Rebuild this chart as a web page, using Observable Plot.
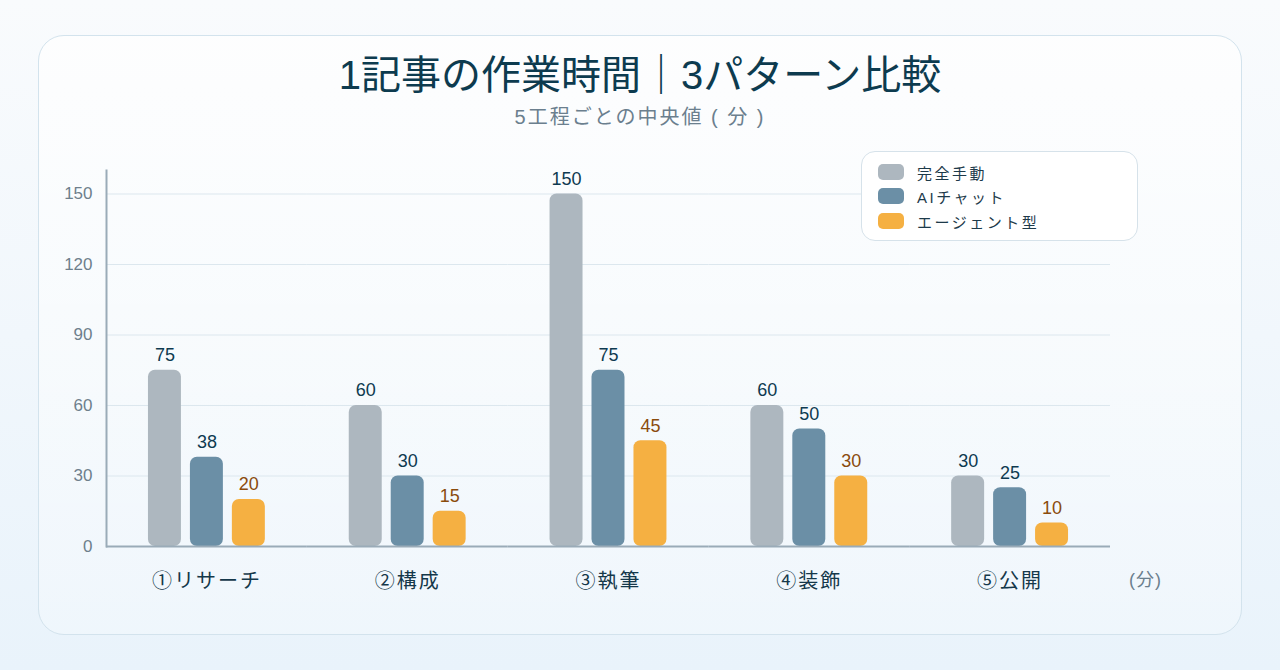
<!DOCTYPE html>
<html>
<head>
<meta charset="utf-8">
<script src="https://cdn.jsdelivr.net/npm/d3@7"></script>
<script src="https://cdn.jsdelivr.net/npm/@observablehq/plot@0.6"></script>
<style>
  html, body { margin: 0; padding: 0; }
  body {
    width: 1280px; height: 670px; overflow: hidden; position: relative;
    background: linear-gradient(180deg, #f9fbfd 0%, #e9f3fb 100%);
    font-family: "Liberation Sans", "Noto Sans CJK JP", sans-serif;
  }
  #card {
    position: absolute; left: 38px; top: 35px; width: 1202px; height: 598px;
    border: 1.5px solid #d3e3ed; border-radius: 26px;
    background: linear-gradient(180deg, rgba(255,255,255,0.7) 0%, rgba(255,255,255,0.25) 100%);
  }
  #title {
    position: absolute; left: 0; top: 52px; width: 1280px; text-align: center;
    font-size: 40px; color: #0d3b4f; line-height: 46px;
  }
  #subtitle {
    position: absolute; left: 0; top: 104px; width: 1280px; text-align: center;
    font-size: 20px; color: #6b7f8e; line-height: 26px; letter-spacing: 2px;
  }
  #chart { position: absolute; left: 0; top: 150px; }
  #chart svg [aria-label="fx-axis tick label"] text { letter-spacing: 2px; }
  #legend {
    position: absolute; left: 861px; top: 151px; width: 275px; height: 88px;
    background: #ffffff; border: 1.5px solid #d6e2ea; border-radius: 14px; z-index: 2;
  }
  .row { position: absolute; left: 16px; height: 20px; display: flex; align-items: center; }
  .sw { width: 26px; height: 16px; border-radius: 5px; margin-right: 13px; }
  .lt { font-size: 15px; color: #1d3a4a; letter-spacing: 2.5px; }
  #unit {
    position: absolute; left: 1129px; top: 565px; font-size: 18px; color: #6b7f8e; letter-spacing: 1px;
  }
</style>
</head>
<body>
<div id="card"></div>
<div id="title">1記事の作業時間｜3パターン比較</div>
<div id="subtitle">5工程ごとの中央値 ( 分 )</div>
<div id="chart"></div>
<div id="legend"></div>
<div id="unit">(分)</div>
<script>
const categories = ["①リサーチ", "②構成", "③執筆", "④装飾", "⑤公開"];
const series = ["完全手動", "AIチャット", "エージェント型"];
const manual = [75, 60, 150, 60, 30];
const aiChat = [38, 30, 75, 50, 25];
const agent = [20, 15, 45, 30, 10];
const yTicks = [0, 30, 60, 90, 120, 150];
const colors = ["#adb7bf", "#6b8fa6", "#f5b042"];
const labelColors = ["#0e3a50", "#0e3a50", "#8a4b0c"];

const values = [manual, aiChat, agent];
const data = [];
categories.forEach((c, i) => {
  series.forEach((s, j) => data.push({cat: c, series: s, value: values[j][i], idx: j}));
});

// legend
const legend = document.getElementById("legend");
const rowTops = [10, 34, 59];
series.forEach((s, j) => {
  const r = document.createElement("div");
  r.className = "row";
  r.style.top = rowTops[j] + "px";
  r.innerHTML = `<div class="sw" style="background:${colors[j]}"></div><span class="lt">${s}</span>`;
  legend.appendChild(r);
});

const plot = Plot.plot({
  width: 1280,
  height: 460,
  marginTop: 20,
  marginBottom: 64,
  marginLeft: 106,
  marginRight: 170,
  style: {background: "transparent", fontFamily: "Liberation Sans, Noto Sans CJK JP, sans-serif"},
  fx: {domain: categories, padding: 0, round: false, label: null},
  x: {domain: series, paddingInner: 0.214, paddingOuter: 1.0, round: false, axis: null},
  y: {domain: [0, 160], label: null},
  color: {domain: series, range: colors},
  marks: [
    Plot.gridY(yTicks, {stroke: "#dce7ee", strokeOpacity: 1, strokeWidth: 1}),
    Plot.axisY(yTicks, {tickSize: 0, tickPadding: 14, fontSize: 17, fill: "#6e7f8c", label: null}),
    Plot.axisFx({anchor: "bottom", tickSize: 0, tickPadding: 27, fontSize: 20, fill: "#15384a", label: null}),
    Plot.barY(data, {fx: "cat", x: "series", y: "value", fill: "series", rx: 7}),
    Plot.text(data.filter(d => d.idx < 2), {fx: "cat", x: "series", y: "value", text: d => String(d.value), dy: -15, fontSize: 18, fill: labelColors[0]}),
    Plot.text(data.filter(d => d.idx === 2), {fx: "cat", x: "series", y: "value", text: d => String(d.value), dy: -15, fontSize: 18, fill: labelColors[2]}),
    Plot.ruleY([0], {stroke: "#9aabb8", strokeWidth: 2}),
    Plot.frame({anchor: "left", facetAnchor: "left", stroke: "#9aabb8", strokeWidth: 2})
  ]
});
document.getElementById("chart").appendChild(plot);
</script>
</body>
</html>
